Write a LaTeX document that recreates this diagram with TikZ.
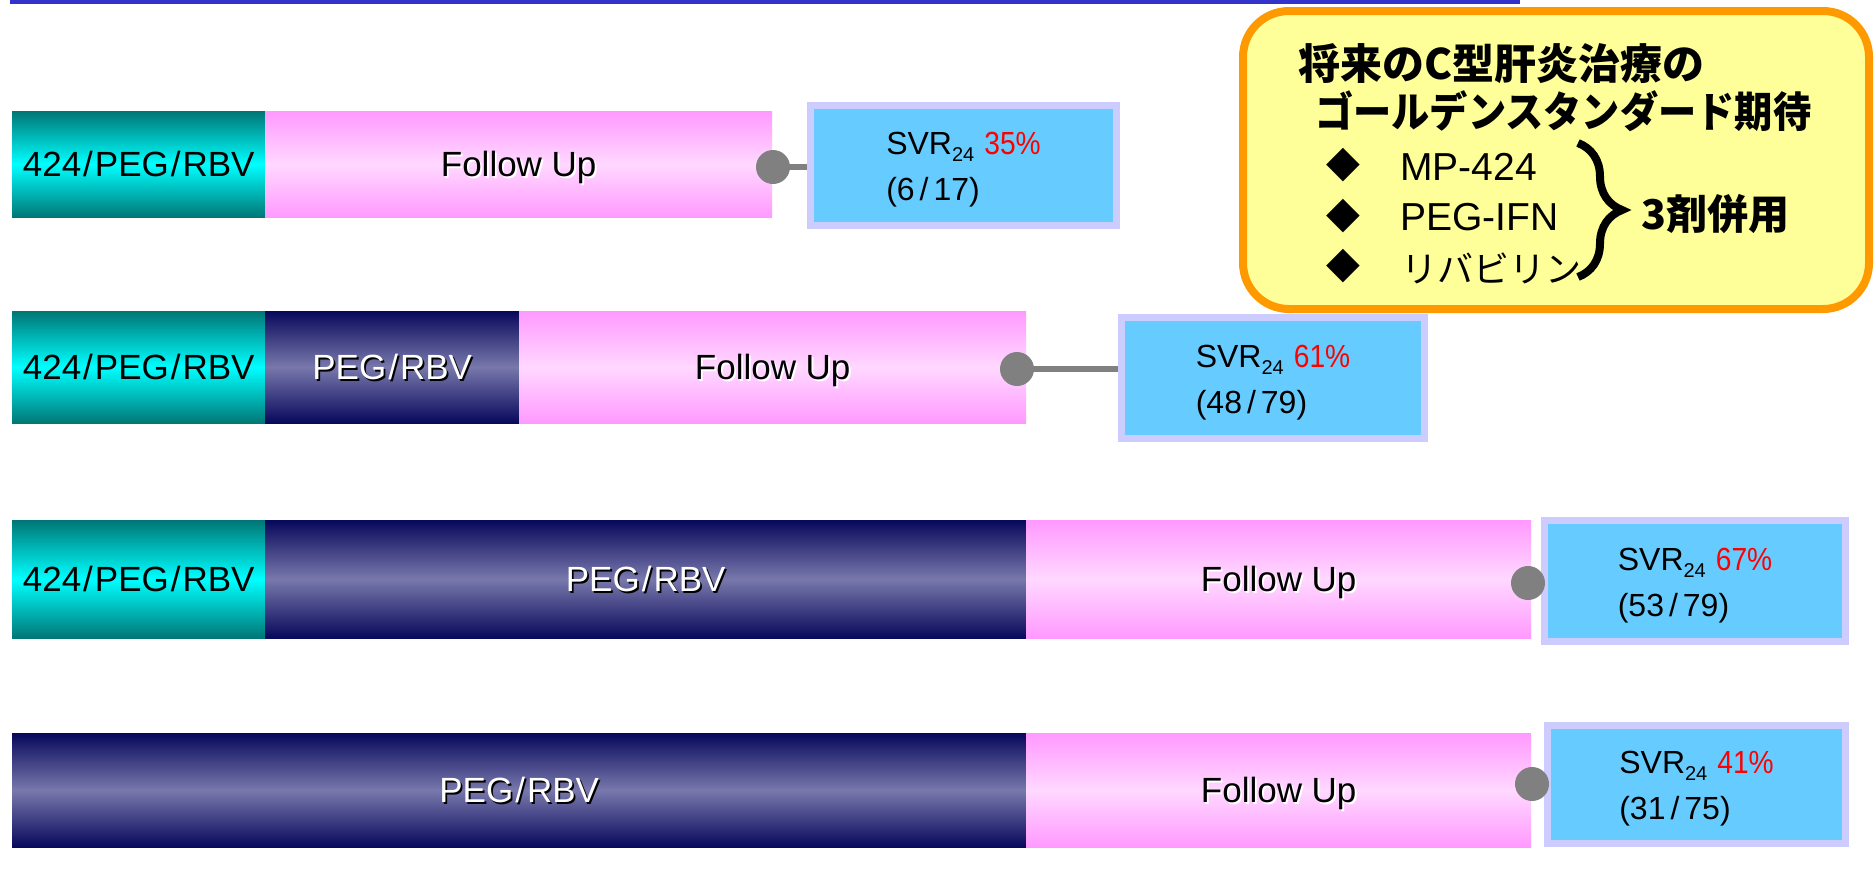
\documentclass[tikz,border=0pt]{standalone}
\usepackage{fontspec}
\usepackage{graphicx}
\setmainfont{Liberation Sans}
\newfontfamily\cjk{Noto Sans CJK JP}
\newfontfamily\symb{DejaVu Sans}
\usetikzlibrary{decorations.pathreplacing}
\pgfdeclarelayer{back}
\pgfsetlayers{back,main}

\definecolor{rulecol}{RGB}{51,51,204}
\definecolor{tealD}{RGB}{0,118,118}
\definecolor{tealL}{RGB}{0,255,255}
\definecolor{navyD}{RGB}{8,8,92}
\definecolor{navyL}{RGB}{120,120,172}
\definecolor{pinkD}{RGB}{255,153,255}
\definecolor{pinkL}{RGB}{255,216,255}
\definecolor{boxfill}{RGB}{102,204,255}
\definecolor{boxrim}{RGB}{204,204,255}
\definecolor{dotgray}{RGB}{128,128,128}
\definecolor{notefill}{RGB}{255,255,153}
\definecolor{noterim}{RGB}{255,153,0}
\definecolor{pctred}{RGB}{255,0,0}

% text with an offset drop shadow: #1 shadow colour, #2 text colour, #3 text
\newcommand\shadowed[3]{\makebox[0pt][l]{\kern1.8pt\raisebox{-1.8pt}{\textcolor{#1}{#3}}}\textcolor{#2}{#3}}
\newcommand\slsh{\kern2pt/\kern2pt}
\newcommand\wslsh{\kern5pt/\kern5pt}
\newcommand\subidx[1]{\raisebox{-7pt}{\fontsize{20}{20}\selectfont #1}}
\newcommand\pctval[1]{\textcolor{pctred}{\scalebox{0.88}[1]{#1}}}
% first line of an outcome label, with a taller strut to seat the block lower
\newcommand\svrline[1]{\rule{0pt}{31pt}SVR\subidx{24}\hspace{10pt}\pctval{#1}}

\begin{document}
\begin{tikzpicture}[x=1pt,y=-1pt,
  seg/.style={rectangle, inner sep=0pt, anchor=north west,
    text height=25pt, text depth=0pt,
    font=\fontsize{35}{35}\selectfont},
  tealseg/.style={seg, top color=tealD, bottom color=tealD, middle color=tealL},
  navyseg/.style={seg, top color=navyD, bottom color=navyD, middle color=navyL},
  pinkseg/.style={seg, top color=pinkD, bottom color=pinkD, middle color=pinkL},
  svr/.style={rectangle, draw=boxrim, line width=7pt, fill=boxfill, align=left,
    inner sep=0pt, font=\fontsize{32}{46}\selectfont},
  dot/.style={circle, fill=dotgray, minimum size=34pt, inner sep=0pt},
  link/.style={draw=dotgray, line width=6pt},
  note/.style={rectangle, draw=noterim, line width=8pt, fill=notefill,
    rounded corners=46pt},
  title/.style={anchor=base west, inner sep=0pt,
    font={\cjk\bfseries\fontsize{42}{42}\selectfont}},
  bullet/.style={inner sep=0pt, font={\symb\fontsize{44}{44}\selectfont}},
  item/.style={anchor=base west, inner sep=0pt, font=\fontsize{39}{39}\selectfont},
  brace/.style={decorate, decoration={brace, amplitude=44pt}, line width=8pt}
]
\useasboundingbox (0,0) rectangle (1875,873);

% header rule
\fill[rulecol] (10,0) rectangle (1520,4);

% arm 1
\node[tealseg, minimum width=253pt, minimum height=106pt] (a1) at (12,111) {424\slsh PEG\slsh RBV};
\node[pinkseg, minimum width=507pt, minimum height=106pt] (f1) at (265,111) {\shadowed{white}{black}{Follow Up}};
% arm 2
\node[tealseg, minimum width=253pt, minimum height=112pt] (a2) at (12,311) {424\slsh PEG\slsh RBV};
\node[navyseg, minimum width=254pt, minimum height=112pt] (p2) at (265,311) {\shadowed{black}{white}{PEG\slsh RBV}};
\node[pinkseg, minimum width=507pt, minimum height=112pt] (f2) at (519,311) {\shadowed{white}{black}{Follow Up}};
% arm 3
\node[tealseg, minimum width=253pt, minimum height=118pt] (a3) at (12,520) {424\slsh PEG\slsh RBV};
\node[navyseg, minimum width=761pt, minimum height=118pt] (p3) at (265,520) {\shadowed{black}{white}{PEG\slsh RBV}};
\node[pinkseg, minimum width=505pt, minimum height=118pt] (f3) at (1026,520) {\shadowed{white}{black}{Follow Up}};
% arm 4
\node[navyseg, minimum width=1014pt, minimum height=114pt] (p4) at (12,733) {\shadowed{black}{white}{PEG\slsh RBV}};
\node[pinkseg, minimum width=505pt, minimum height=114pt] (f4) at (1026,733) {\shadowed{white}{black}{Follow Up}};

% outcome boxes
\node[svr, minimum width=306pt, minimum height=120pt] (b1) at (963.5,165.5)
  {\svrline{35\%}\\(6\wslsh 17)};
\node[svr, minimum width=303pt, minimum height=121pt] (b2) at (1273,378)
  {\svrline{61\%}\\(48\wslsh 79)};
\node[svr, minimum width=301pt, minimum height=121pt] (b3) at (1695,581)
  {\svrline{67\%}\\(53\wslsh 79)};
\node[svr, minimum width=298pt, minimum height=118pt] (b4) at (1696.5,784.5)
  {\svrline{41\%}\\(31\wslsh 75)};

% end-of-follow-up markers, linked to their outcome boxes
\node[dot] (d1) at (773,167) {};
\node[dot] (d2) at (1017,369) {};
\node[dot] (d3) at (1528,583) {};
\node[dot] (d4) at (1532,784) {};
\begin{pgfonlayer}{back}
\draw[link] (d1.center) -- (d1.center -| b1.center);
\draw[link] (d2.center) -- (d2.center -| b2.center);
\end{pgfonlayer}

% call-out
\node[note, minimum width=626pt, minimum height=298pt] (note) at (1556,160) {};
\node[title] (t1) at (1298,79) {将来のC型肝炎治療の};
\node[title] (t2) at (1315,127) {\scalebox{0.91}[1]{ゴールデンスタンダード期待}};
\node[bullet] (k1) at (1343,165) {◆};
\node[bullet] (k2) at (1343,216) {◆};
\node[bullet] (k3) at (1343,266) {◆};
\node[item] (i1) at (1400,180) {MP-424};
\node[item] (i2) at (1400,230) {PEG-IFN};
\node[item, font={\cjk\fontsize{36}{36}\selectfont}] (i3) at (1401,282) {リバビリン};
\coordinate (braceTop) at (1578,143);
\coordinate (braceBot) at (1578,277);
\draw[brace] (braceTop) -- (braceBot);
\node[anchor=west, inner sep=0pt, font={\cjk\bfseries\fontsize{41}{41}\selectfont}] (combo) at (1641,214) {3剤併用};
\end{tikzpicture}
\end{document}
